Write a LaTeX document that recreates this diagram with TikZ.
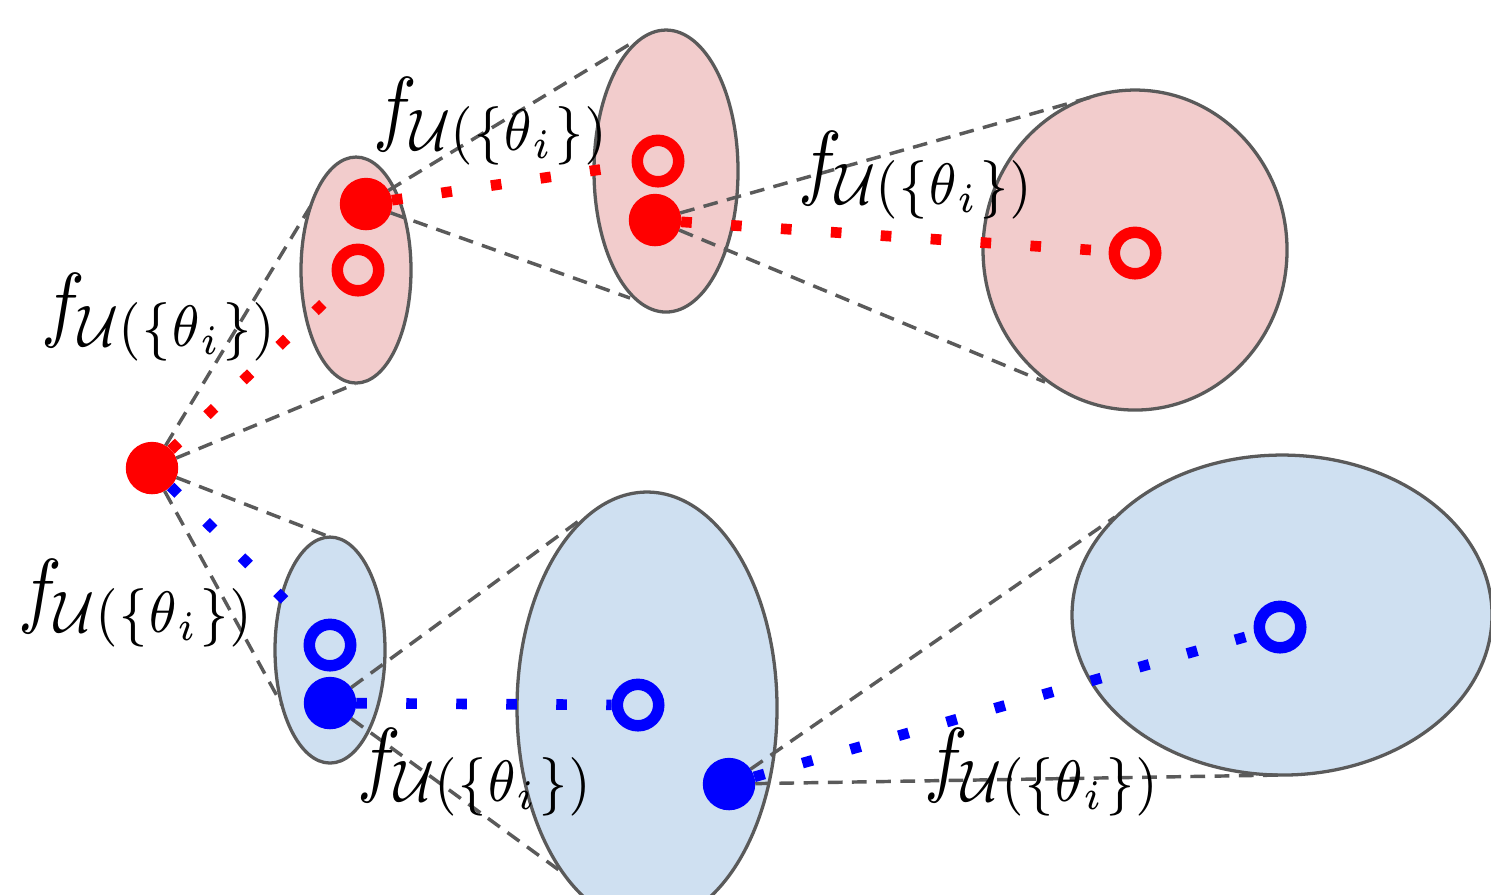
\documentclass[tikz,border=0pt]{standalone}
\definecolor{pinkfill}{RGB}{242,204,204}
\definecolor{bluefill}{RGB}{207,224,241}
\definecolor{edgegray}{RGB}{90,90,90}
\newcommand{\flabel}{\scalebox{0.89}[1.02]{$f_{\mathcal{U}(\{\theta_i\})}$}}
\begin{document}
\begin{tikzpicture}[x=0.122pt,y=-0.122pt,
 region/.style={draw=edgegray, line width=0.4pt},
 cone/.style={draw=edgegray, line width=0.42pt, dash pattern=on 1.8pt off 1.15pt},
 flow/.style={line width=1.3pt, dash pattern=on 1.3pt off 4.8pt},
 fulldot/.style={circle, fill=#1, inner sep=0pt, outer sep=0pt, minimum size=6.4pt},
 ring/.style={circle, draw=#1, line width=1.4pt, inner sep=0pt, minimum size=5.06pt},
 lab/.style={inner sep=0pt}
]
\useasboundingbox (0,0) rectangle (1491,894);
\clip (0,0) rectangle (1491,894);

% regions
\coordinate (R1) at (356,270);
\coordinate (R2) at (666,171);
\coordinate (R3) at (1135,250);
\coordinate (B1) at (330,650);
\coordinate (B2) at (647,708);
\coordinate (B3) at (1282,615);
\draw[region, fill=pinkfill] (R1) ellipse [x radius=55, y radius=113];
\draw[region, fill=pinkfill] (R2) ellipse [x radius=72, y radius=141];
\draw[region, fill=pinkfill] (R3) ellipse [x radius=152, y radius=160];
\draw[region, fill=bluefill] (B1) ellipse [x radius=55, y radius=113];
\draw[region, fill=bluefill] (B2) ellipse [x radius=130, y radius=216];
\draw[region, fill=bluefill] (B3) ellipse [x radius=210, y radius=160];

% points
\node[fulldot=red] (d0) at (152,468) {};
\node[ring=red] (r1) at (358,270) {};
\node[fulldot=red] (d1) at (366,204) {};
\node[ring=red] (r2) at (658,161) {};
\node[fulldot=red] (d2) at (655,220) {};
\node[ring=red] (r3) at (1135,253) {};
\node[ring=blue] (b1) at (330,645) {};
\node[fulldot=blue] (d3) at (330,703) {};
\node[ring=blue] (b2) at (638,705) {};
\node[fulldot=blue] (d4) at (729,784) {};
\node[ring=blue] (b3) at (1280,627) {};

% cone end points on region borders
\coordinate (r1a) at (310,207);
\coordinate (r1b) at (355,384);
\coordinate (r2a) at (630,44);
\coordinate (r2b) at (630,298);
\coordinate (r3a) at (1095,96);
\coordinate (r3b) at (1045,382);
\coordinate (b1a) at (330,537);
\coordinate (b1b) at (282,705);
\coordinate (b2a) at (580,520);
\coordinate (b2b) at (563,873);
\coordinate (b3a) at (1115,517);
\coordinate (b3b) at (1280,775);

% cones
\draw[cone] (d0) -- (r1a);
\draw[cone] (d0) -- (r1b);
\draw[cone] (d1) -- (r2a);
\draw[cone] (d1) -- (r2b);
\draw[cone] (d2) -- (r3a);
\draw[cone] (d2) -- (r3b);
\draw[cone] (d0) -- (b1a);
\draw[cone] (d0) -- (b1b);
\draw[cone] (d3) -- (b2a);
\draw[cone] (d3) -- (b2b);
\draw[cone] (d4) -- (b3a);
\draw[cone] (d4) -- (b3b);

% flows
\draw[flow, red] (d0) -- (r1);
\draw[flow, red] (d1) -- (r2);
\draw[flow, red] (d2) -- (r3);
\draw[flow, blue] (d0) -- (b1);
\draw[flow, blue] (d3) -- (b2);
\draw[flow, blue] (d4) -- (b3);

% labels
\node[lab] (l1) at (160,317) {\flabel};
\node[lab] (l2) at (492,121) {\flabel};
\node[lab] (l3) at (917,175) {\flabel};
\node[lab] (l4) at (137,603) {\flabel};
\node[lab] (l5) at (476,772) {\flabel};
\node[lab] (l6) at (1043,772) {\flabel};
\end{tikzpicture}
\end{document}
